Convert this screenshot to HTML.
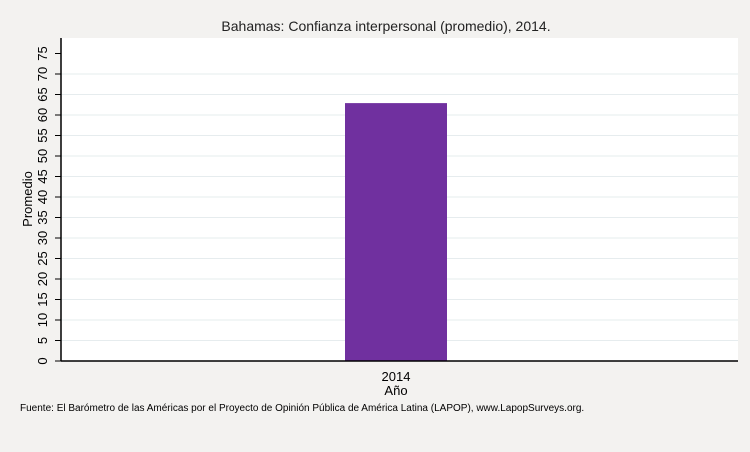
<!DOCTYPE html>
<html><head><meta charset="utf-8"><style>
body{margin:0;background:#f3f2f0;font-family:"Liberation Sans",sans-serif;}
svg{display:block}
</style></head><body>
<svg id="c" width="750" height="452">
<rect width="750" height="452" fill="#f3f2f0"/>
<text x="386" y="31" text-anchor="middle" font-size="14" fill="#222">Bahamas: Confianza interpersonal (promedio), 2014.</text>
<rect x="61" y="38" width="677" height="323" fill="#fff"/>
<g id="grid"></g><g id="bars"></g><g id="yaxis"></g>
<line x1="61" y1="38" x2="61" y2="361" stroke="#000" stroke-width="1.5"/>
<line x1="61" y1="361" x2="738" y2="361" stroke="#000" stroke-width="1.5"/>
<text transform="translate(32,199) rotate(-90)" text-anchor="middle" font-size="13" fill="#000">Promedio</text>
<text x="396" y="395" text-anchor="middle" font-size="13" fill="#000">Año</text>
<text x="20" y="411" font-size="10" fill="#000">Fuente: El Barómetro de las Américas por el Proyecto de Opinión Pública de América Latina (LAPOP), www.LapopSurveys.org.</text>
</svg>
<script>
const categories=["2014"];
const values=[62.9];
const yTicks=[0,5,10,15,20,25,30,35,40,45,50,55,60,65,70,75];
const NS="http://www.w3.org/2000/svg";
const y=v=>361-v*4.1;
const x=i=>396+(i-(categories.length-1)/2)*200;
const g=document.getElementById("grid"),ya=document.getElementById("yaxis"),b=document.getElementById("bars");
yTicks.forEach(t=>{
 if(t>0&&t<75){const l=document.createElementNS(NS,"line");
 
 
 l.setAttribute("x1",61);l.setAttribute("x2",738);l.setAttribute("y1",y(t));l.setAttribute("y2",y(t));l.setAttribute("stroke","#e6ecee");g.appendChild(l);}
 const tk=document.createElementNS(NS,"line");
 
 
 tk.setAttribute("x1",55);tk.setAttribute("x2",61);tk.setAttribute("y1",y(t));tk.setAttribute("y2",y(t));tk.setAttribute("stroke","#000");ya.appendChild(tk);
 const tx=document.createElementNS(NS,"text");
 
 
 tx.setAttribute("transform",`translate(47,${y(t)}) rotate(-90)`);tx.setAttribute("text-anchor","middle");tx.setAttribute("font-size","13");tx.textContent=t;ya.appendChild(tx);
});
categories.forEach((c,i)=>{
 const r=document.createElementNS(NS,"rect");
 
 
 r.setAttribute("x",x(i)-51);r.setAttribute("width",102);r.setAttribute("y",y(values[i]));r.setAttribute("height",361-y(values[i]));r.setAttribute("fill","#70309f");b.appendChild(r);
 const t=document.createElementNS(NS,"text");
 
 
 t.setAttribute("x",x(i));t.setAttribute("y",381);t.setAttribute("text-anchor","middle");t.setAttribute("font-size","13");t.textContent=c;b.appendChild(t);
});
</script>
</body></html>
